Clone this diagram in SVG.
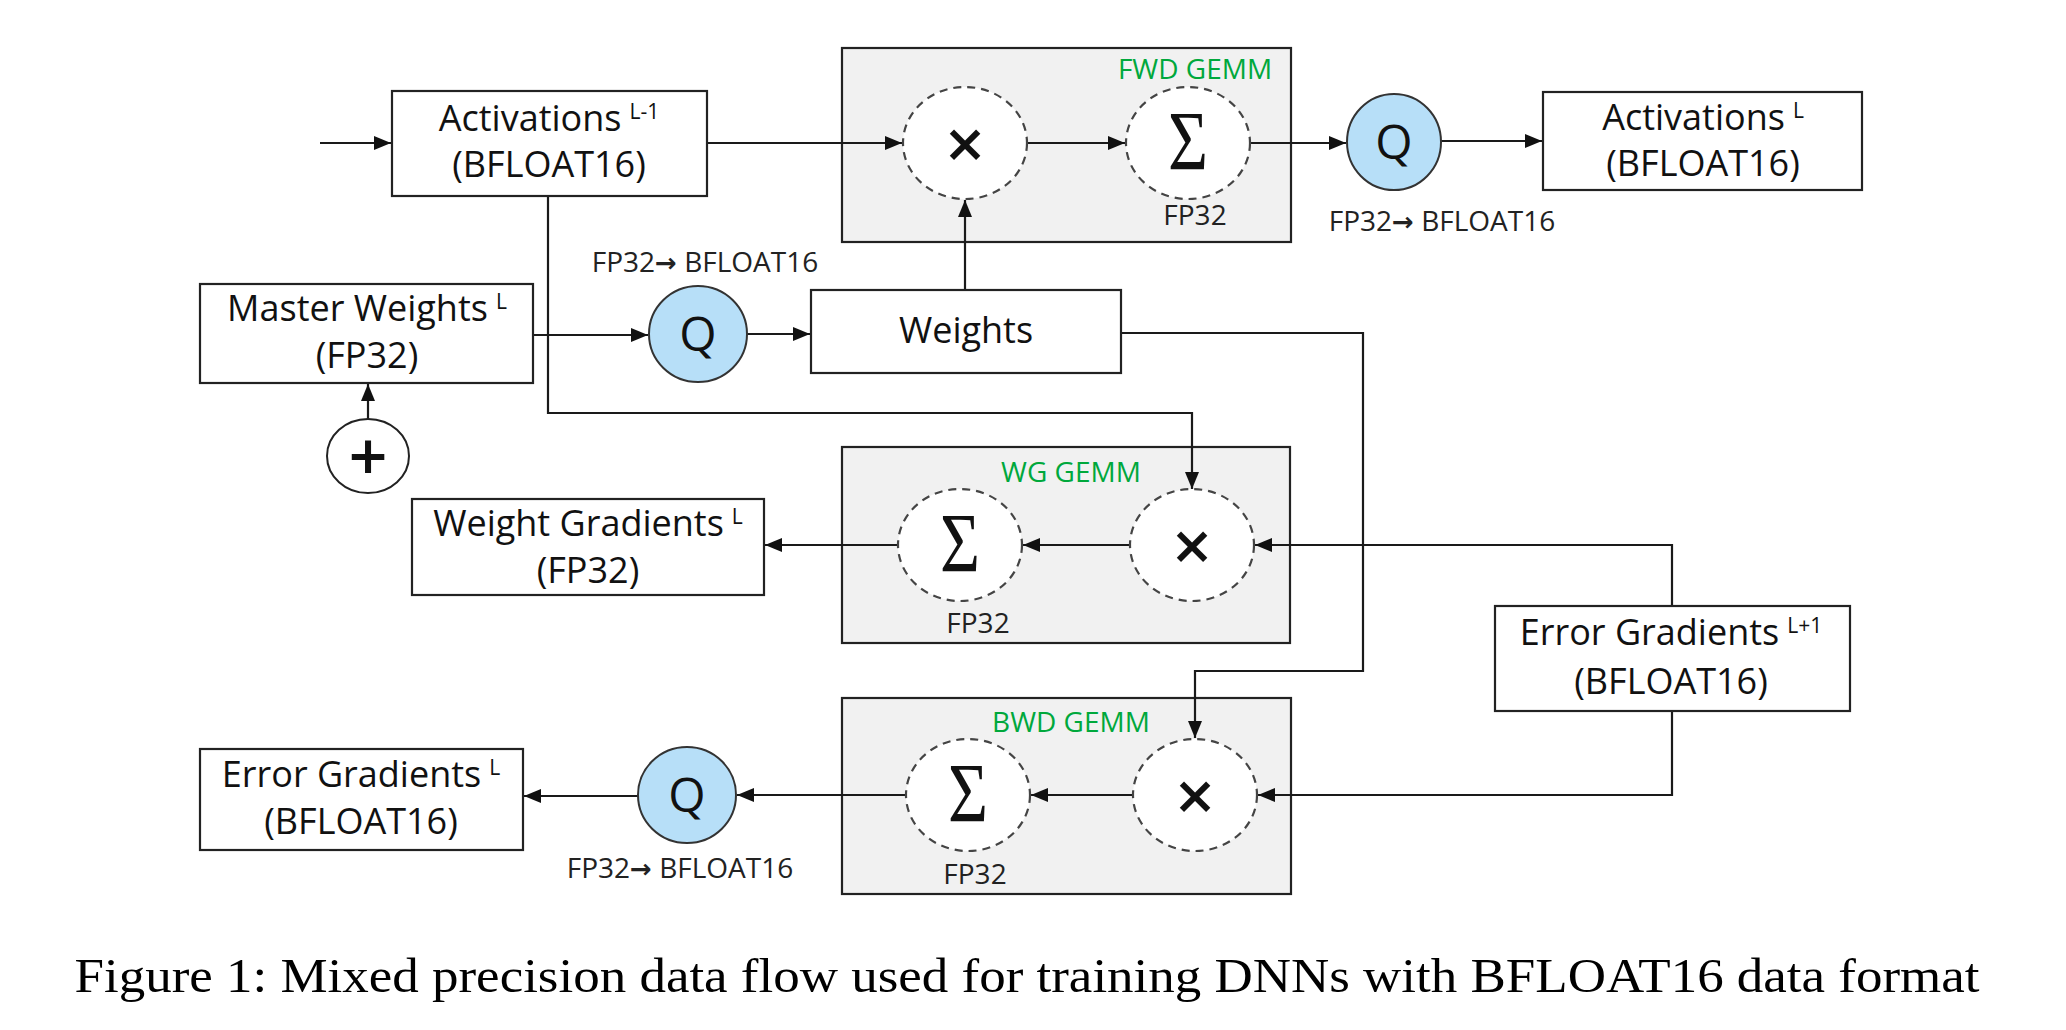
<svg xmlns="http://www.w3.org/2000/svg" width="2066" height="1030" viewBox="0 0 2066 1030">
<defs>
<marker id="ah" markerUnits="userSpaceOnUse" markerWidth="18" markerHeight="16" viewBox="0 0 18 16" refX="17" refY="8" orient="auto">
<path d="M0,1 L17,8 L0,15 Z" fill="#111"/>
</marker>
</defs>
<style>
.box{fill:#fff;stroke:#222;stroke-width:2.2}
.gemm{fill:#f1f1f1;stroke:#222;stroke-width:2.2}
.op{fill:#fff;stroke:#444;stroke-width:2.2;stroke-dasharray:8 6}
.q{fill:#b7dff8;stroke:#333;stroke-width:2}
.plus{fill:#fff;stroke:#222;stroke-width:2}
.lbl{font-family:"Open Sans","Liberation Sans",sans-serif;font-size:36px;fill:#111;text-anchor:middle}
.sup{font-size:21px}
.sm{font-family:"Open Sans","Liberation Sans",sans-serif;font-size:28px;fill:#222;text-anchor:middle}
.arr{font-family:"DejaVu Sans",sans-serif;font-weight:bold;font-size:26px}
.gr{font-family:"Open Sans","Liberation Sans",sans-serif;font-size:28px;fill:#00a83c;text-anchor:middle}
.sig{font-family:"Liberation Serif","DejaVu Serif",serif;font-size:84px;fill:#111;text-anchor:middle}
.mul{font-family:"DejaVu Sans",sans-serif;font-size:52px;font-weight:bold;fill:#111;text-anchor:middle}
.qt{font-family:"Open Sans","Liberation Sans",sans-serif;font-size:48px;fill:#111;text-anchor:middle}
.cap{font-family:"Liberation Serif","Times New Roman",serif;font-size:49px;fill:#000;text-anchor:middle}
.ln{fill:none;stroke:#1a1a1a;stroke-width:2.2}
</style>

<g id="fwd-gemm">
<rect class="gemm" x="842" y="48" width="449" height="194"/>
<text class="gr" x="1195" y="79">FWD GEMM</text>
</g>
<g id="wg-gemm">
<rect class="gemm" x="842" y="447" width="448" height="196"/>
<text class="gr" x="1071" y="482">WG GEMM</text>
</g>
<g id="bwd-gemm">
<rect class="gemm" x="842" y="698" width="449" height="196"/>
<text class="gr" x="1071" y="732">BWD GEMM</text>
</g>

<g id="connectors">
<line class="ln" x1="320" y1="143" x2="391" y2="143" marker-end="url(#ah)"/>
<line class="ln" x1="707" y1="143" x2="902" y2="143" marker-end="url(#ah)"/>
<line class="ln" x1="1027" y1="143" x2="1125" y2="143" marker-end="url(#ah)"/>
<line class="ln" x1="1250" y1="143" x2="1346" y2="143" marker-end="url(#ah)"/>
<line class="ln" x1="1441" y1="141" x2="1542" y2="141" marker-end="url(#ah)"/>
<line class="ln" x1="533" y1="335" x2="648" y2="335" marker-end="url(#ah)"/>
<line class="ln" x1="747" y1="334" x2="810" y2="334" marker-end="url(#ah)"/>
<line class="ln" x1="965" y1="290" x2="965" y2="200" marker-end="url(#ah)"/>
<polyline class="ln" points="1121,333 1363,333 1363,671 1195,671 1195,738" marker-end="url(#ah)"/>
<polyline class="ln" points="548,196 548,413 1192,413 1192,489" marker-end="url(#ah)"/>
<line class="ln" x1="368" y1="419" x2="368" y2="384" marker-end="url(#ah)"/>
<line class="ln" x1="1130" y1="545" x2="1023" y2="545" marker-end="url(#ah)"/>
<line class="ln" x1="898" y1="545" x2="765" y2="545" marker-end="url(#ah)"/>
<polyline class="ln" points="1672,606 1672,545 1255,545" marker-end="url(#ah)"/>
<polyline class="ln" points="1672,711 1672,795 1258,795" marker-end="url(#ah)"/>
<line class="ln" x1="1133" y1="795" x2="1031" y2="795" marker-end="url(#ah)"/>
<line class="ln" x1="906" y1="795" x2="737" y2="795" marker-end="url(#ah)"/>
<line class="ln" x1="638" y1="796" x2="524" y2="796" marker-end="url(#ah)"/>
</g>

<g id="activations-l-1">
<rect class="box" x="392" y="91" width="315" height="105"/>
<text class="lbl" x="549" y="131">Activations<tspan class="sup" dx="8" dy="-12">L-1</tspan></text>
<text class="lbl" x="549" y="177">(BFLOAT16)</text>
</g>

<g id="fwd-mul">
<ellipse class="op" cx="965" cy="143" rx="62" ry="56"/>
<text class="mul" x="965" y="161">×</text>
</g>
<g id="fwd-sum">
<ellipse class="op" cx="1188" cy="143" rx="62" ry="56"/>
<text class="sig" x="1188" y="170" textLength="40" lengthAdjust="spacingAndGlyphs">Σ</text>
<text class="sm" x="1195" y="225">FP32</text>
</g>

<g id="q1">
<ellipse class="q" cx="1394" cy="142" rx="47" ry="48"/>
<text class="qt" x="1394" y="159">Q</text>
<text class="sm" x="1442" y="231">FP32<tspan class="arr">→</tspan> BFLOAT16</text>
</g>

<g id="activations-l">
<rect class="box" x="1543" y="92" width="319" height="98"/>
<text class="lbl" x="1703" y="130">Activations<tspan class="sup" dx="8" dy="-12">L</tspan></text>
<text class="lbl" x="1703" y="176">(BFLOAT16)</text>
</g>

<g id="master-weights">
<rect class="box" x="200" y="284" width="333" height="99"/>
<text class="lbl" x="367" y="321">Master Weights<tspan class="sup" dx="8" dy="-12">L</tspan></text>
<text class="lbl" x="367" y="368">(FP32)</text>
</g>

<g id="q2">
<ellipse class="q" cx="698" cy="334" rx="49" ry="48"/>
<text class="qt" x="698" y="351">Q</text>
<text class="sm" x="705" y="272">FP32<tspan class="arr">→</tspan> BFLOAT16</text>
</g>

<g id="weights">
<rect class="box" x="811" y="290" width="310" height="83"/>
<text class="lbl" x="966" y="343">Weights</text>
</g>

<g id="plus">
<ellipse class="plus" cx="368" cy="456" rx="41" ry="37"/>
<text class="mul" x="368" y="473">+</text>
</g>

<g id="wg-sum">
<ellipse class="op" cx="960" cy="545" rx="62" ry="56"/>
<text class="sig" x="960" y="572" textLength="40" lengthAdjust="spacingAndGlyphs">Σ</text>
<text class="sm" x="978" y="633">FP32</text>
</g>
<g id="wg-mul">
<ellipse class="op" cx="1192" cy="545" rx="62" ry="56"/>
<text class="mul" x="1192" y="563">×</text>
</g>

<g id="weight-gradients">
<rect class="box" x="412" y="499" width="352" height="96"/>
<text class="lbl" x="588" y="536">Weight Gradients<tspan class="sup" dx="8" dy="-12">L</tspan></text>
<text class="lbl" x="588" y="583">(FP32)</text>
</g>

<g id="error-gradients-l1">
<rect class="box" x="1495" y="606" width="355" height="105"/>
<text class="lbl" x="1671" y="645">Error Gradients<tspan class="sup" dx="8" dy="-12">L+1</tspan></text>
<text class="lbl" x="1671" y="694">(BFLOAT16)</text>
</g>

<g id="bwd-sum">
<ellipse class="op" cx="968" cy="795" rx="62" ry="56"/>
<text class="sig" x="968" y="822" textLength="40" lengthAdjust="spacingAndGlyphs">Σ</text>
<text class="sm" x="975" y="884">FP32</text>
</g>
<g id="bwd-mul">
<ellipse class="op" cx="1195" cy="795" rx="62" ry="56"/>
<text class="mul" x="1195" y="813">×</text>
</g>

<g id="q3">
<ellipse class="q" cx="687" cy="795" rx="49" ry="48"/>
<text class="qt" x="687" y="812">Q</text>
<text class="sm" x="680" y="878">FP32<tspan class="arr">→</tspan> BFLOAT16</text>
</g>

<g id="error-gradients-l">
<rect class="box" x="200" y="749" width="323" height="101"/>
<text class="lbl" x="361" y="787">Error Gradients<tspan class="sup" dx="8" dy="-12">L</tspan></text>
<text class="lbl" x="361" y="834">(BFLOAT16)</text>
</g>

<text class="cap" x="1027" y="992" textLength="1905" lengthAdjust="spacingAndGlyphs">Figure 1: Mixed precision data flow used for training DNNs with BFLOAT16 data format</text>
</svg>
